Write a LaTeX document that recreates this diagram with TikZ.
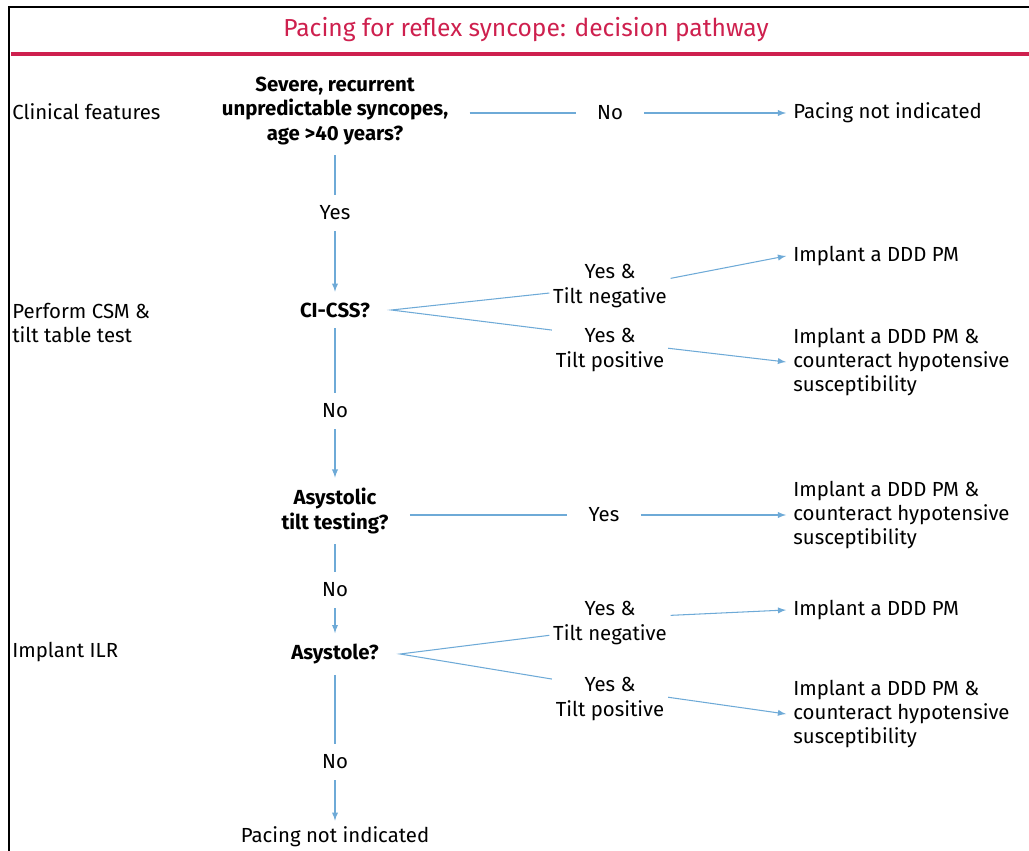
\documentclass[tikz,border=0pt]{standalone}
\usepackage{fontspec}
\setmainfont{Fira Sans}
\usepackage{tikz}
\usetikzlibrary{arrows}
\usetikzlibrary{positioning}
\definecolor{rougetitre}{RGB}{206,32,78}
\definecolor{bleulien}{RGB}{110,170,215}
\tikzstyle{titre}=[text=rougetitre,font=\fontsize{14}{16}\selectfont]
\tikzstyle{etape}=[anchor=west,align=left,inner sep=0pt]
\tikzstyle{question}=[font=\bfseries\fontsize{11.6}{13.7}\selectfont,align=center,inner xsep=12pt,inner ysep=6pt]
\tikzstyle{choix}=[align=center,inner xsep=12pt,inner ysep=6pt]
\tikzstyle{branche}=[align=center,inner sep=2pt]
\tikzstyle{issue}=[anchor=west,align=left,inner xsep=4pt,inner ysep=2pt]
\tikzstyle{trait}=[draw=bleulien,line width=0.6pt]
\tikzstyle{suite}=[-latex,draw=bleulien,line width=0.6pt]
\begin{document}
\begin{tikzpicture}[x=0.02cm,y=-0.02cm,font=\fontsize{11.6}{13.7}\selectfont]
\useasboundingbox (0,0) rectangle (1029,851);
%cadre et titre
\draw[line width=1.1pt] (9,851) -- (9,7) -- (1029,7);
\node[titre] (titre) at (526,30) {Pacing for reflex syncope: decision pathway};
\draw[rougetitre,line width=1.8pt] (11,54) -- (1029,54);
%colonne de gauche
\node[etape] (clinique) at (12,112) {Clinical features};
\node[etape] (csm) at (12,323) {Perform CSM \&\\tilt table test};
\node[etape] (ilr) at (12,652) {Implant ILR};
%questions
\node[question] (severe) at (335,111) {Severe, recurrent\\unpredictable syncopes,\\age >40 years?};
\node[question] (cicss) at (335,310) {CI-CSS?};
\node[question] (asysttilt) at (335,511) {Asystolic\\tilt testing?};
\node[question] (asystole) at (335,654) {Asystole?};
\node (finpacing) at (335,837) {Pacing not indicated};
%reponses
\node[choix] (non1) at (610,113) {No};
\node[choix] (oui1) at (335,213) {Yes};
\node[choix] (non2) at (335,411) {No};
\node[choix] (oui3) at (604,515) {Yes};
\node[choix] (non3) at (335,590) {No};
\node[choix] (non4) at (335,762) {No};
\node[branche] (neg1) at (610,286) {Yes \&\\Tilt negative};
\node[branche] (pos1) at (610,350) {Yes \&\\Tilt positive};
\node[branche] (neg2) at (610,623) {Yes \&\\Tilt negative};
\node[branche] (pos2) at (610,699) {Yes \&\\Tilt positive};
%issues
\node[issue] (pasind) at (786,113) {Pacing not indicated};
\node[issue] (ddd1) at (786,256) {Implant a DDD PM};
\node[issue] (ddd2) at (786,362) {Implant a DDD PM \&\\counteract hypotensive\\susceptibility};
\node[issue] (ddd3) at (786,515) {Implant a DDD PM \&\\counteract hypotensive\\susceptibility};
\node[issue] (ddd4) at (786,610) {Implant a DDD PM};
\node[issue] (ddd5) at (786,714) {Implant a DDD PM \&\\counteract hypotensive\\susceptibility};
%fleches
\draw[trait] (severe.east |- non1) -- (non1.west);
\draw[suite] (non1.east) -- (pasind.west);
\draw[trait] (severe.south) -- (oui1.north);
\draw[suite] (oui1.south) -- (cicss.north);
\draw[trait] ([yshift=-4pt]neg1.west) -- (cicss.east) -- ([yshift=-3pt]pos1.north west);
\draw[suite] ([yshift=-10pt]neg1.north east) -- (ddd1.west);
\draw[suite] ([yshift=1pt]pos1.east) -- (ddd2.west);
\draw[trait] (cicss.south) -- (non2.north);
\draw[suite] (non2.south) -- (asysttilt.north);
\draw[trait] (asysttilt.east |- oui3) -- (oui3.west);
\draw[suite] (oui3.east) -- (ddd3.west);
\draw[trait] (asysttilt.south) -- (non3.north);
\draw[suite] (non3.south) -- (asystole.north);
\draw[trait] ([yshift=-7pt]neg2.west) -- (asystole.east) -- ([yshift=-3pt]pos2.north west);
\draw[suite] ([yshift=-10pt]neg2.north east) -- (ddd4.west);
\draw[suite] ([yshift=1pt]pos2.east) -- (ddd5.west);
\draw[trait] (asystole.south) -- (non4.north);
\draw[suite] (non4.south) -- (finpacing.north);
\end{tikzpicture}
\end{document}
